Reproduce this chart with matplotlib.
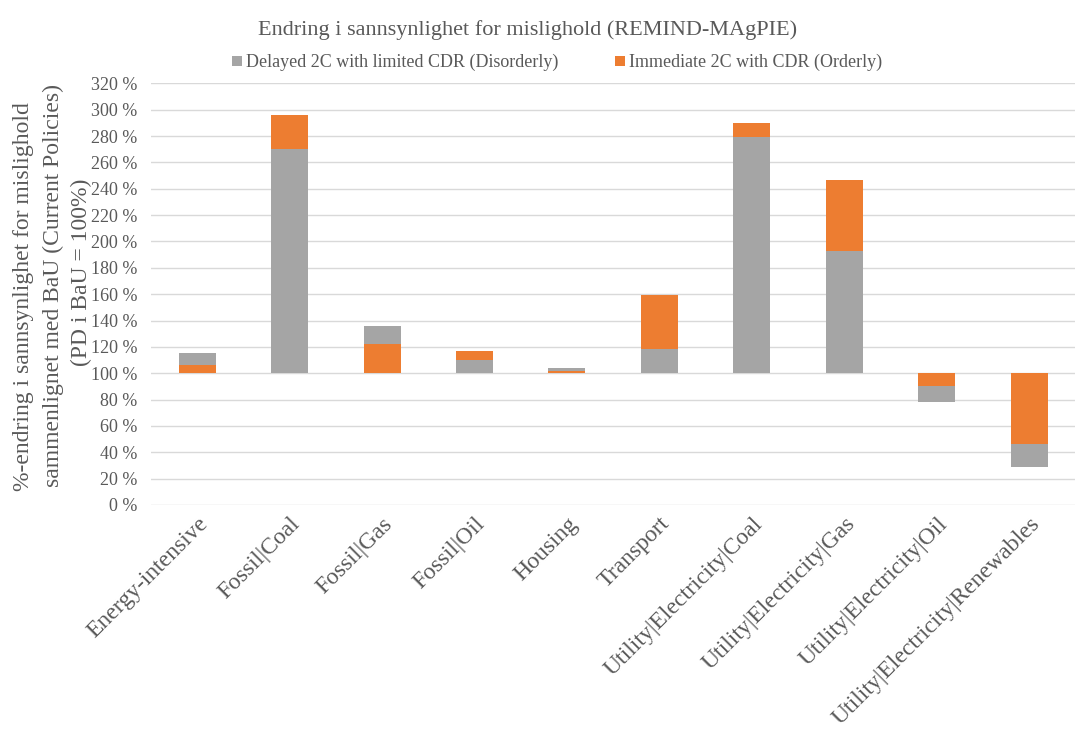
import matplotlib
matplotlib.use("Agg")
import matplotlib.pyplot as plt
from matplotlib.ticker import FuncFormatter, MultipleLocator
from matplotlib.lines import Line2D

# Sector categories and probability-of-default relative to BaU (%)
categories = [
    "Energy-intensive", "Fossil|Coal", "Fossil|Gas", "Fossil|Oil", "Housing",
    "Transport", "Utility|Electricity|Coal", "Utility|Electricity|Gas",
    "Utility|Electricity|Oil", "Utility|Electricity|Renewables",
]
delayed = [115, 270, 135.5, 110, 104, 118, 279, 193, 78.5, 29]
immediate = [106, 296, 122, 116.5, 102, 159, 290, 247, 90, 46]
baseline = 100

series_names = ["Delayed 2C with limited CDR (Disorderly)",
                "Immediate 2C with CDR (Orderly)"]
ylabel_lines = ["%-endring i sannsynlighet for mislighold",
                "sammenlignet med BaU (Current Policies)",
                "(PD i BaU = 100%)"]
colors = ["#A5A5A5", "#ED7D31"]
text_color = "#595959"

plt.rcParams["font.family"] = ["Liberation Serif", "DejaVu Serif"]

fig = plt.figure(figsize=(10.81, 7.29), dpi=100)
ax = fig.add_axes([0.1397, 0.3073, 0.855, 0.5784])

x = list(range(len(categories)))
width = 0.40
bars_d = ax.bar(x, [v - baseline for v in delayed], width, bottom=baseline,
                color=colors[0], linewidth=0)
bars_i = ax.bar(x, [v - baseline for v in immediate], width, bottom=baseline,
                color=colors[1], linewidth=0)

# The bar with the smaller deviation from 100 % sits in front
for i in range(len(categories)):
    d = abs(delayed[i] - baseline)
    m = abs(immediate[i] - baseline)
    if d < m:
        bars_d[i].set_zorder(3)
        bars_i[i].set_zorder(2)
    else:
        bars_d[i].set_zorder(2)
        bars_i[i].set_zorder(3)

ax.set_ylim(0, 320)
ax.set_xlim(-0.5, len(categories) - 0.5)
ax.yaxis.set_major_locator(MultipleLocator(20))
ax.yaxis.set_major_formatter(FuncFormatter(lambda v, p: f"{int(v)} %"))
ax.grid(axis="y", color="#D9D9D9", linewidth=1.0, zorder=0)
ax.set_axisbelow(True)
for s in ax.spines.values():
    s.set_visible(False)
ax.tick_params(axis="both", length=0, colors=text_color)
ax.tick_params(axis="y", labelsize=13, pad=10)
ax.set_xticks(x)
ax.set_xticklabels(categories, rotation=45, ha="right", rotation_mode="anchor",
                   fontsize=17, color=text_color)
ax.tick_params(axis="x", pad=6)

# Three-line vertical axis title
for line, xf, yf in zip(ylabel_lines, [0.0222, 0.049, 0.0749],
                        [0.5926, 0.6077, 0.6269]):
    fig.text(xf, yf, line, rotation=90, ha="center", va="center",
             fontsize=17, color=text_color)

fig.text(0.488, 0.959, "Endring i sannsynlighet for mislighold (REMIND-MAgPIE)",
         ha="center", va="center", fontsize=16, color=text_color)

handles = [Line2D([], [], marker="s", linestyle="none", markersize=7,
                  markerfacecolor=c, markeredgewidth=0) for c in colors]
fig.legend(handles, series_names, loc="center", bbox_to_anchor=(0.514, 0.914),
           ncol=2, frameon=False, fontsize=13, labelcolor=text_color,
           handletextpad=0.1, columnspacing=3.0, handlelength=0.8)

fig.savefig("out.png", dpi=100, facecolor="white")
